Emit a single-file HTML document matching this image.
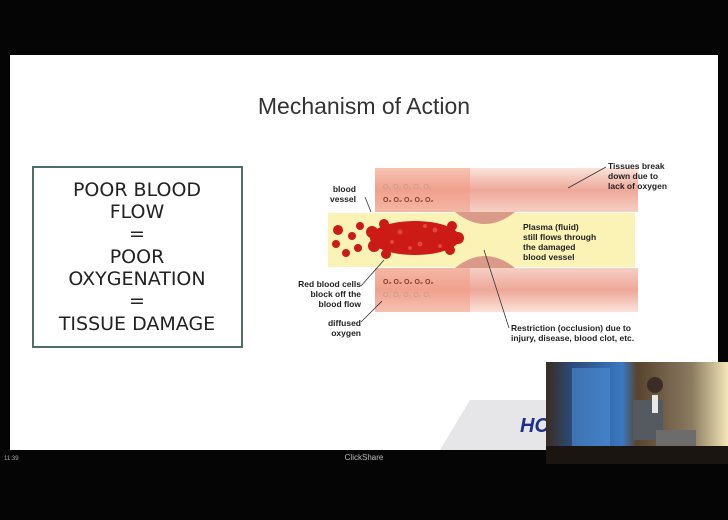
<!DOCTYPE html>
<html><head><meta charset="utf-8"><style>
html,body{margin:0;padding:0;background:#050505;width:728px;height:520px;overflow:hidden}
svg{display:block}
</style></head><body>
<svg width="728" height="520" viewBox="0 0 728 520" xmlns="http://www.w3.org/2000/svg" font-family="Liberation Sans, sans-serif">
<defs>
<linearGradient id="tis" x1="0" y1="0" x2="0" y2="1">
<stop offset="0" stop-color="#fbe3da"/><stop offset="0.5" stop-color="#eea89a"/><stop offset="1" stop-color="#f6cfc4"/>
</linearGradient>
<linearGradient id="tis2" x1="0" y1="0" x2="0" y2="1">
<stop offset="0" stop-color="#f6cfc4"/><stop offset="0.5" stop-color="#eea89a"/><stop offset="1" stop-color="#fbe3da"/>
</linearGradient>
<linearGradient id="vid" x1="0" y1="0" x2="1" y2="0">
<stop offset="0" stop-color="#3a2c20"/><stop offset="0.15" stop-color="#2b4b80"/><stop offset="0.42" stop-color="#3a78c0"/><stop offset="0.5" stop-color="#58442e"/><stop offset="0.8" stop-color="#8a7a60"/><stop offset="1" stop-color="#f3e7b8"/>
</linearGradient>
</defs>
<rect x="0" y="0" width="728" height="520" fill="#050505"/>
<rect x="10" y="55" width="708" height="395" fill="#ffffff"/>
<polygon points="470,400 718,400 718,450 440,450" fill="#e6e6e8"/>
<text x="364" y="114" font-size="23" fill="#333" text-anchor="middle">Mechanism of Action</text>
<rect x="33" y="167" width="209" height="180" fill="#fff" stroke="#4f6e6a" stroke-width="2"/>
<g font-size="19" fill="#222" text-anchor="middle" font-family="DejaVu Sans, sans-serif">
<text x="137" y="196">POOR BLOOD</text>
<text x="137" y="218">FLOW</text>
<text x="137" y="240">=</text>
<text x="137" y="263">POOR</text>
<text x="137" y="285">OXYGENATION</text>
<text x="137" y="307">=</text>
<text x="137" y="330">TISSUE DAMAGE</text>
</g>
<rect x="375" y="168" width="263" height="44" fill="url(#tis)"/>
<rect x="375" y="268" width="263" height="44" fill="url(#tis2)"/>
<rect x="375" y="168" width="95" height="44" fill="#f29a7e" opacity="0.45"/>
<rect x="375" y="268" width="95" height="44" fill="#f29a7e" opacity="0.45"/>
<path d="M328,213 L460,213 Q478,213 485,222 Q493,213 510,213 L635,213 L635,267 L510,267 Q493,267 485,255 Q478,267 460,267 L328,267 Z" fill="#fbf2b6"/>
<path d="M455,212 Q485,236 515,212 Z" fill="#d99a88"/>
<path d="M455,268 Q485,244 515,268 Z" fill="#d99a88"/>
<g fill="#cc1a14">
<ellipse cx="415" cy="238" rx="45" ry="17"/>
<circle cx="372" cy="232" r="6"/><circle cx="374" cy="246" r="6"/><circle cx="384" cy="224" r="5"/><circle cx="386" cy="254" r="5"/><circle cx="458" cy="238" r="6"/><circle cx="452" cy="226" r="5"/><circle cx="450" cy="250" r="5"/>
<circle cx="338" cy="230" r="5"/><circle cx="336" cy="244" r="4"/><circle cx="346" cy="253" r="4"/><circle cx="352" cy="236" r="4"/><circle cx="360" cy="226" r="4"/><circle cx="358" cy="248" r="4"/>
</g>
<g fill="#e8504a" opacity="0.8">
<circle cx="400" cy="232" r="2.5"/><circle cx="420" cy="244" r="2.5"/><circle cx="435" cy="230" r="2.5"/><circle cx="410" cy="248" r="2"/><circle cx="392" cy="242" r="2"/><circle cx="440" cy="246" r="2"/><circle cx="425" cy="226" r="2"/>
</g>
<g font-size="7" fill="#8a3a2a" font-weight="bold">
<text x="383" y="202">O₂  O₂  O₂  O₂  O₂</text>
<text x="383" y="284">O₂  O₂  O₂  O₂  O₂</text>
</g>
<g font-size="7" fill="#c79a8c">
<text x="383" y="189">O₂  O₂  O₂  O₂  O₂</text>
<text x="383" y="297">O₂  O₂  O₂  O₂  O₂</text>
</g>
<g font-size="8.5" fill="#222" font-weight="bold">
<text x="356" y="192" text-anchor="end">blood</text>
<text x="356" y="202" text-anchor="end">vessel</text>
<text x="608" y="169">Tissues break</text>
<text x="608" y="179">down due to</text>
<text x="608" y="189">lack of oxygen</text>
<text x="523" y="230">Plasma (fluid)</text>
<text x="523" y="240">still flows through</text>
<text x="523" y="250">the damaged</text>
<text x="523" y="260">blood vessel</text>
<text x="361" y="287" text-anchor="end">Red blood cells</text>
<text x="361" y="297" text-anchor="end">block off the</text>
<text x="361" y="307" text-anchor="end">blood flow</text>
<text x="361" y="326" text-anchor="end">diffused</text>
<text x="361" y="336" text-anchor="end">oxygen</text>
<text x="511" y="331">Restriction (occlusion) due to</text>
<text x="511" y="341">injury, disease, blood clot, etc.</text>
</g>
<g stroke="#333" stroke-width="0.8">
<line x1="365" y1="197" x2="371" y2="212"/>
<line x1="606" y1="167" x2="568" y2="188"/>
<line x1="361" y1="286" x2="384" y2="260"/>
<line x1="361" y1="322" x2="382" y2="301"/>
<line x1="509" y1="328" x2="484" y2="250"/>
</g>
<text x="520" y="432" font-size="20" font-style="italic" font-weight="bold" fill="#1e2f8a">HC</text>
<text x="4" y="460" font-size="6" fill="#aaa">11:39</text>
<text x="364" y="460" font-size="8" fill="#bbb" text-anchor="middle">ClickShare</text>
<rect x="546" y="362" width="182" height="102" fill="url(#vid)"/>
<rect x="572" y="368" width="38" height="90" fill="#4d8fd6" opacity="0.6"/>
<rect x="633" y="400" width="30" height="40" fill="#555a60"/>
<circle cx="655" cy="385" r="8" fill="#3a2d26"/>
<rect x="652" y="395" width="6" height="18" fill="#e8e8e8"/>
<rect x="656" y="430" width="40" height="16" fill="#6c6c6c"/>
<rect x="546" y="446" width="182" height="18" fill="#1a1510"/>
</svg>
</body></html>
